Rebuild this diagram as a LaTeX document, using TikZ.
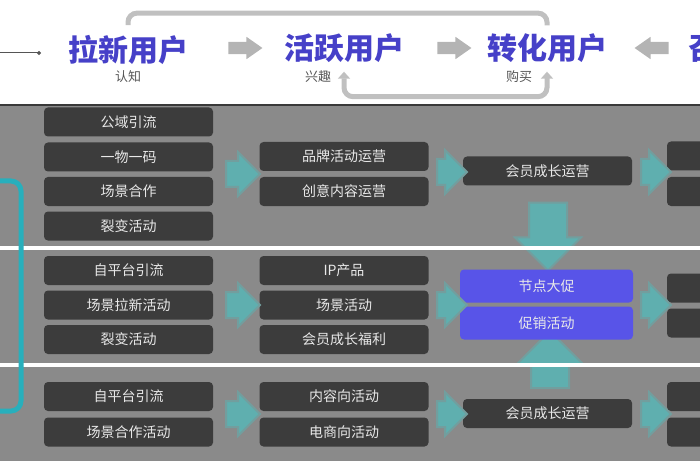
\documentclass[tikz,border=0pt]{standalone}
\usepackage{fontspec}
\newfontfamily\cjk{Noto Sans CJK SC}
\usetikzlibrary{positioning}
\usetikzlibrary{shapes.arrows}
\usetikzlibrary{arrows.meta}

\definecolor{panelgray}{RGB}{138,138,138}
\definecolor{boxdark}{RGB}{60,60,60}
\definecolor{boxtext}{RGB}{232,232,232}
\definecolor{boxblue}{RGB}{88,84,232}
\definecolor{titleblue}{RGB}{70,64,200}
\definecolor{stagegray}{RGB}{85,85,85}
\definecolor{linegray}{RGB}{192,192,192}
\definecolor{arrowgray}{RGB}{180,180,180}
\definecolor{flowteal}{RGB}{95,175,175}
\definecolor{bracketteal}{RGB}{40,175,188}

\tikzset{
    box/.style={rounded corners=4pt, fill=boxdark, text=boxtext, inner sep=0pt,
        minimum width=169pt, minimum height=29pt, font=\cjk\fontsize{14}{15}\selectfont},
    bluebox/.style={box, fill=boxblue, minimum width=173pt, minimum height=33pt},
    title/.style={text=titleblue, inner sep=0pt, font=\cjk\bfseries\fontsize{30}{31}\selectfont},
    stage/.style={text=stagegray, inner sep=0pt, font=\cjk\fontsize{13}{14}\selectfont},
    garrow/.style={single arrow, fill=arrowgray, inner sep=0pt, inner ysep=6pt,
        single arrow head extend=5pt, single arrow tip angle=70, minimum height=34pt},
    tarrow/.style={single arrow, fill=flowteal, draw=flowteal!55!panelgray, line width=2pt,
        inner sep=0pt, inner ysep=12pt, single arrow head extend=9pt, minimum height=34pt},
    vtarrow/.style={tarrow, inner sep=18pt, single arrow head extend=14pt},
    loopline/.style={line width=5pt, draw=linegray, rounded corners=9pt},
}

\begin{document}
\begin{tikzpicture}[x=1pt, y=-1pt]
    \useasboundingbox (0,0) rectangle (700,470);

    % header
    \node[title] (laxin)    at (128,50)                {拉新用户};
    \node[stage] (renzhi)   at (128,77)                {认知};
    \node[title] (huoyue)   at (344,48)                {活跃用户};
    \node[stage] (xingqu)   at (318,77)                {兴趣};
    \node[title] (zhuanhua) at (547,48)                {转化用户};
    \node[stage] (goumai)   at (519,77)                {购买};
    \node[title, anchor=west] (zhaohui) at (688,48)    {召回用户};

    \node[garrow] (g1) at (241,48) {};
    \node[garrow] (g2) at (450,48) {};
    \node[garrow, shape border rotate=180] (g3) at (656,48) {};

    \coordinate (lin)  at (0,53);
    \coordinate (lout) at (41,53);
    \draw[line width=1pt, stagegray, -{Circle[length=4pt]}] (lin) -- (lout);

    \draw[loopline] ([yshift=10pt]laxin.north) -- ++(0,-12) -| ([yshift=8pt]zhuanhua.north);
    \draw[loopline, {Triangle[width=12pt,length=7pt]}-{Triangle[width=12pt,length=7pt]}]
        ([yshift=-9pt]huoyue.south) -- ++(0,25) -| ([yshift=-9pt]zhuanhua.south);

    % panel
    \fill[panelgray] (0,104) rectangle (700,461);
    \draw[line width=2pt, gray!45!black] (0,105) -- (700,105);

    \node[vtarrow, shape border rotate=270, minimum height=68pt] (down) at (548,227) {};
    \node[vtarrow, shape border rotate=90, minimum height=48pt] (up) at (550,369) {};

    \fill[white] (0,246) rectangle (700,250);
    \fill[white] (0,363) rectangle (700,367);

    \draw[line width=5pt, bracketteal, rounded corners=10pt] (-5,181) -- (21,181) -- (21,411) -- (-5,411);

    % row 1
    \node[box] (r1a1) at (128.5,122)   {公域引流};
    \node[box] (r1a2) at (128.5,157)   {一物一码};
    \node[box] (r1a3) at (128.5,191.5) {场景合作};
    \node[box] (r1a4) at (128.5,226)   {裂变活动};
    \node[box] (r1b1) at (344,156.5)   {品牌活动运营};
    \node[box] (r1b2) at (344,191.5)   {创意内容运营};
    \node[box] (r1c1) at (547.5,171)   {会员成长运营};
    \node[box] (r1d1) at (751.5,156)   {};
    \node[box] (r1d2) at (751.5,191.5) {};
    \node[tarrow] (r1t1) at (236.5,174) {};
    \node[tarrow, minimum height=30pt] (r1t2) at (445.5,172) {};
    \node[tarrow, minimum height=30pt] (r1t3) at (649.5,172) {};

    % row 2
    \node[box] (r2a1) at (128.5,270.5) {自平台引流};
    \node[box] (r2a2) at (128.5,305)   {场景拉新活动};
    \node[box] (r2a3) at (128.5,339.5) {裂变活动};
    \node[box] (r2b1) at (344,270.5)   {IP产品};
    \node[box] (r2b2) at (344,305)     {场景活动};
    \node[box] (r2b3) at (344,339.5)   {会员成长福利};
    \node[bluebox] (r2c1) at (546.5,286) {节点大促};
    \node[bluebox] (r2c2) at (546.5,323) {促销活动};
    \node[box] (r2d1) at (751.5,288)   {};
    \node[box] (r2d2) at (751.5,323)   {};
    \node[tarrow] (r2t1) at (236.5,305) {};
    \node[tarrow, minimum height=30pt] (r2t2) at (445.5,305) {};
    \node[tarrow, minimum height=30pt] (r2t3) at (649.5,305) {};

    % row 3
    \node[box] (r3a1) at (128.5,396.5) {自平台引流};
    \node[box] (r3a2) at (128.5,432)   {场景合作活动};
    \node[box] (r3b1) at (344,396.5)   {内容向活动};
    \node[box] (r3b2) at (344,432)     {电商向活动};
    \node[box] (r3c1) at (547.5,413.5) {会员成长运营};
    \node[box] (r3d1) at (751.5,396.5) {};
    \node[box] (r3d2) at (751.5,432)   {};
    \node[tarrow] (r3t1) at (236.5,414) {};
    \node[tarrow, minimum height=30pt] (r3t2) at (445.5,414) {};
    \node[tarrow, minimum height=30pt] (r3t3) at (649.5,414) {};
\end{tikzpicture}
\end{document}
